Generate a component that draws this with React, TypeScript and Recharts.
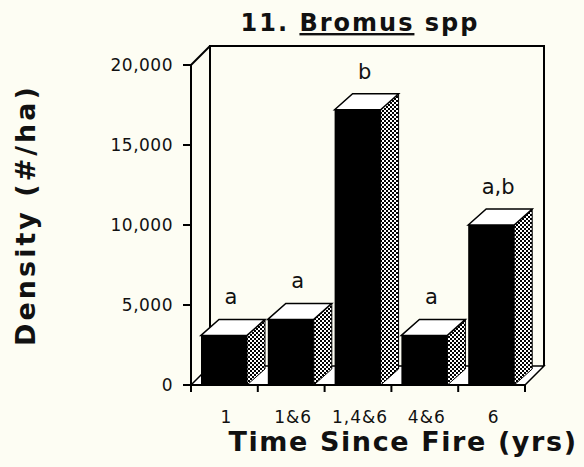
import React from 'react';
import { BarChart, Bar, XAxis, YAxis, LabelList } from 'recharts';

const categories = ['1', '1&6', '1,4&6', '4&6', '6'];
const densities = [3100, 4100, 17200, 3100, 10000];
const significance = ['a', 'a', 'b', 'a', 'a,b'];
const yTicks = [0, 5000, 10000, 15000, 20000];

const data = categories.map((name, i) => ({
  name,
  density: densities[i],
  sig: significance[i],
}));

const W = 584;
const H = 467;
const X_AXIS_H = 30;
const Y_AXIS_W = 61;
const margin = { top: 65, right: 59, bottom: 52, left: 130 };

// plot area derived from the same numbers the chart uses
const plotLeft = margin.left + Y_AXIS_W;
const plotRight = W - margin.right;
const plotTop = margin.top;
const plotBottom = H - margin.bottom - X_AXIS_H;

// 3d depth of the frame and of the bars
const DX = 19;
const DY = 19;
const BAR_DX = 18;
const BAR_DY = 16;

const BG = '#fdfdf3';
const FONT = '"DejaVu Sans", Verdana, sans-serif';

const Bar3D = (props: any) => {
  const { x, y, width, height } = props;
  if (height == null || height <= 0) return null;
  const r = x + width;
  const b = y + height;
  return (
    <g>
      <polygon
        points={`${r},${y} ${r + BAR_DX},${y - BAR_DY} ${r + BAR_DX},${b - BAR_DY} ${r},${b}`}
        fill="url(#stipple)"
        stroke="#000"
        strokeWidth={1}
      />
      <polygon
        points={`${x},${y} ${x + BAR_DX},${y - BAR_DY} ${r + BAR_DX},${y - BAR_DY} ${r},${y}`}
        fill="#fff"
        stroke="#000"
        strokeWidth={1.5}
      />
      <rect x={x} y={y} width={width} height={height} fill="#000" />
    </g>
  );
};

const SigLabel = (props: any) => {
  const { x, y, width, value } = props;
  return (
    <text
      x={x + width / 2 + BAR_DX / 2 - 2}
      y={y - BAR_DY - 15}
      textAnchor="middle"
      fontFamily={FONT}
      fontSize={21}
      fill="#111"
    >
      {value}
    </text>
  );
};

const CategoryTick = (props: any) => {
  const { x, y, payload } = props;
  return (
    <text
      x={x + 2}
      y={y + 30}
      textAnchor="middle"
      fontFamily={FONT}
      fontSize={17}
      letterSpacing={1}
      fill="#111"
    >
      {payload.value}
    </text>
  );
};

const Frame = () => {
  const step = (plotRight - plotLeft) / categories.length;
  const bounds = categories.map((_, i) => plotLeft + step * i).concat(plotRight);
  return (
    <svg width={W} height={H} style={{ position: 'absolute', left: 0, top: 0 }}>
      {/* floor */}
      <polygon
        points={`${plotLeft},${plotBottom} ${plotRight},${plotBottom} ${plotRight + DX},${plotBottom - DY} ${plotLeft + DX},${plotBottom - DY}`}
        fill="#fff"
        stroke="#000"
        strokeWidth={1.5}
      />
      {/* back wall */}
      <polyline
        points={`${plotLeft + DX},${plotBottom - DY} ${plotLeft + DX},${plotTop - DY} ${plotRight + DX},${plotTop - DY} ${plotRight + DX},${plotBottom - DY}`}
        fill="none"
        stroke="#000"
        strokeWidth={2}
      />
      <line x1={plotLeft} y1={plotTop} x2={plotLeft + DX} y2={plotTop - DY} stroke="#000" strokeWidth={2} />
      {bounds.map((bx, i) => (
        <line key={i} x1={bx} y1={plotBottom} x2={bx} y2={plotBottom + 7} stroke="#000" strokeWidth={2} />
      ))}
      <text x={360} y={31} textAnchor="middle" fontFamily={FONT} fontWeight="bold" fontSize={24} letterSpacing={2} fill="#111">
        11. <tspan textDecoration="underline">Bromus</tspan> spp
      </text>
      <text
        x={0}
        y={0}
        transform={`translate(35, 215) rotate(-90)`}
        textAnchor="middle"
        fontFamily={FONT}
        fontWeight="bold"
        fontSize={27}
        letterSpacing={3}
        fill="#111"
      >
        Density (#/ha)
      </text>
      <text x={403} y={451} textAnchor="middle" fontFamily={FONT} fontWeight="bold" fontSize={27} letterSpacing={1.6} fill="#111">
        Time Since Fire (yrs)
      </text>
    </svg>
  );
};

export default function App() {
  return (
    <div style={{ position: 'absolute', left: 0, top: 0, width: W, height: H, background: BG }}>
      <Frame />
      <div style={{ position: 'absolute', left: 0, top: 0 }}>
        <BarChart width={W} height={H} data={data} margin={margin} barSize={46}>
          <defs>
            <pattern id="stipple" width={4} height={4} patternUnits="userSpaceOnUse">
              <rect width={4} height={4} fill="#fff" />
              <rect width={2} height={2} fill="#000" />
              <rect x={2} y={2} width={2} height={2} fill="#000" />
            </pattern>
          </defs>
          <XAxis
            dataKey="name"
            height={X_AXIS_H}
            interval={0}
            tickLine={false}
            axisLine={{ stroke: '#000', strokeWidth: 2 }}
            tick={<CategoryTick />}
          />
          <YAxis
            width={Y_AXIS_W}
            domain={[0, 20000]}
            ticks={yTicks}
            interval={0}
            tickSize={8}
            tickMargin={10}
            axisLine={{ stroke: '#000', strokeWidth: 2 }}
            tickLine={{ stroke: '#000', strokeWidth: 2 }}
            tick={{ fill: '#111', fontFamily: FONT, fontSize: 17, letterSpacing: 0.5 }}
            tickFormatter={(v: number) => v.toLocaleString('en-US')}
          />
          <Bar dataKey="density" shape={<Bar3D />} isAnimationActive={false}>
            <LabelList dataKey="sig" content={<SigLabel />} />
          </Bar>
        </BarChart>
      </div>
    </div>
  );
}
